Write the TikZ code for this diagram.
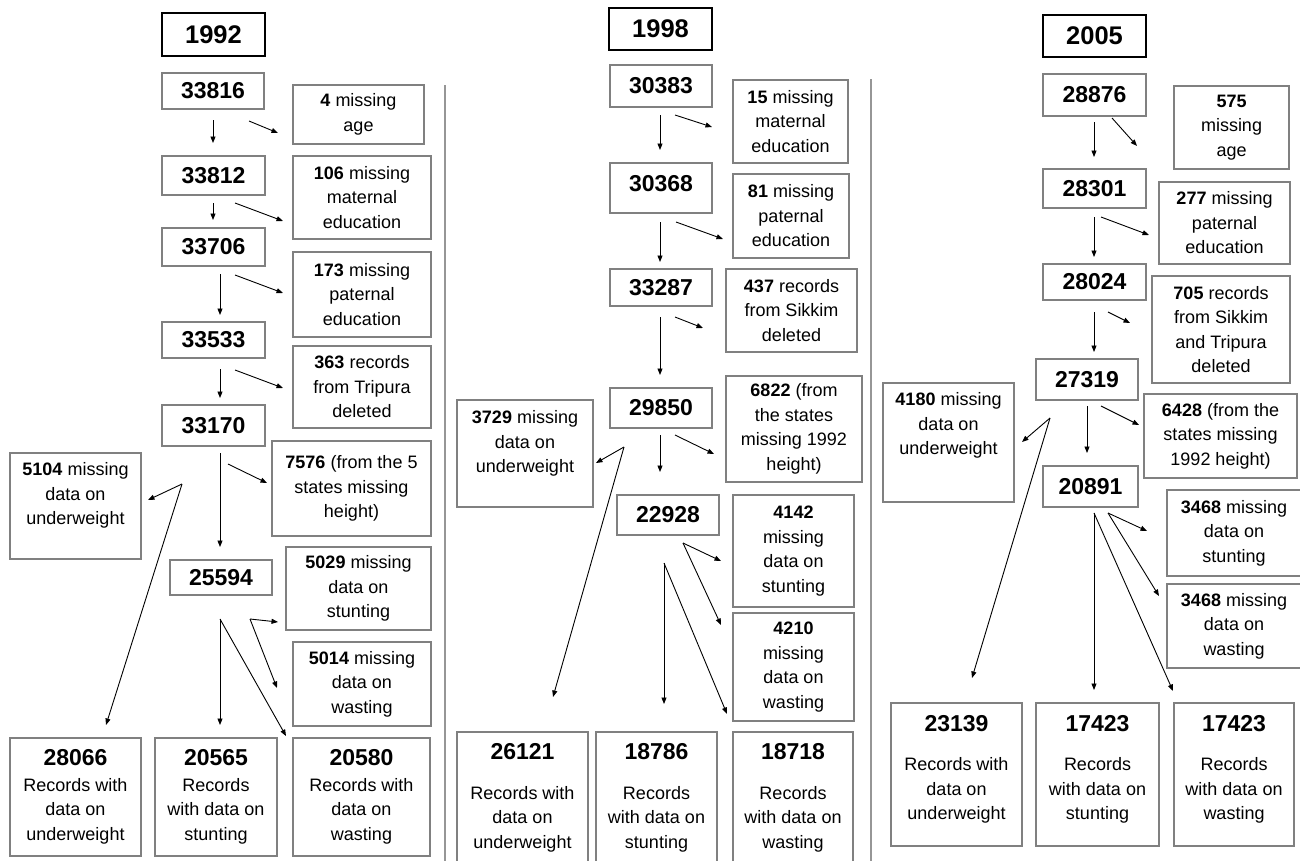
\documentclass[tikz,border=0pt]{standalone}
\usepackage{fontspec}
\setmainfont{Liberation Sans}
\usetikzlibrary{arrows.meta}
\definecolor{boxgray}{RGB}{128,128,128}
\definecolor{sepgray}{RGB}{150,150,150}
\newcommand\txtfont{\fontsize{18}{24.5}\selectfont}
\newcommand\numfont{\fontsize{23}{26}\selectfont\bfseries}
\newcommand\yrfont{\fontsize{25.5}{28}\selectfont\bfseries}
\newcommand\mkbox[7][]{\node[box,#1,minimum width={#5pt-#3pt},minimum height={#6pt-#4pt}] (#2) at ({(#3+#5)/2},{(#4+#6)/2}) {#7};}
\newcommand\mkarr[3]{\coordinate (#1s) at #2; \coordinate (#1e) at #3; \draw[arw] (#1s) -- (#1e);}
\begin{document}
\begin{tikzpicture}[x=1pt,y=-1pt,
  box/.style={draw=boxgray, line width=1.2pt, inner sep=0pt, outer sep=0pt, align=center, font=\txtfont},
  yr/.style={draw=black, line width=2pt, font=\yrfont},
  num/.style={font=\numfont},
  txt/.style={inner sep=0pt, align=center, font=\txtfont},
  numt/.style={inner sep=0pt, font=\numfont},
  arw/.style={-{Triangle[length=6.5pt,width=5pt]}, line width=0.9pt},
  sep/.style={draw=sepgray, line width=2pt}]
\useasboundingbox (0,0) rectangle (1300,860);
% separators
\coordinate (sep1a) at (445,85); \coordinate (sep1b) at (445,862);
\coordinate (sep2a) at (871,79); \coordinate (sep2b) at (871,862);
\draw[sep] (sep1a) -- (sep1b);
\draw[sep] (sep2a) -- (sep2b);

% ================= 1992 =================
\mkbox[yr]{y92}{162}{13}{265}{56}{1992}
\mkbox[num]{a1}{162}{73}{264}{109}{33816}
\mkbox{m1}{293}{85}{424}{144}{\textbf{4} missing\\age}
\mkbox[num]{a2}{162}{156}{265}{195}{33812}
\mkbox{m2}{293}{156}{431}{239}{\textbf{106} missing\\maternal\\education}
\mkbox[num]{a3}{162}{228}{265}{266}{33706}
\mkbox{m3}{293}{252}{431}{337}{\textbf{173} missing\\paternal\\education}
\mkbox[num]{a4}{162}{322}{265}{358}{33533}
\mkbox{m4}{293}{346}{431}{428}{\textbf{363} records\\from Tripura\\deleted}
\mkbox[num]{a5}{162}{405}{265}{446}{33170}
\mkbox{m5}{272}{441}{431}{536}{\textbf{7576} (from the 5\\states missing\\height)}
\mkbox{u1}{10}{453}{141}{559}{}
\node[txt,anchor=base] (u1t) at (75.5,524.5) {\textbf{5104} missing\\data on\\underweight};
\mkbox[num]{a6}{170}{560}{272}{595}{25594}
\mkbox{s1}{286}{547}{431}{630}{\textbf{5029} missing\\data on\\stunting}
\mkbox{w1}{293}{642}{431}{726}{\textbf{5014} missing\\data on\\wasting}
\mkbox{b1}{10}{738}{141}{856}{}
\node[numt,anchor=base] (b1n) at (75.5,765) {28066};
\node[txt,anchor=base] (b1t) at (75.5,840) {Records with\\data on\\underweight};
\mkbox{b2}{155}{738}{277}{856}{}
\node[numt,anchor=base] (b2n) at (216,765) {20565};
\node[txt,anchor=base] (b2t) at (216,840) {Records\\with data on\\stunting};
\mkbox{b3}{293}{738}{430}{856}{}
\node[numt,anchor=base] (b3n) at (361.5,765) {20580};
\node[txt,anchor=base] (b3t) at (361.5,840) {Records with\\data on\\wasting};

\mkarr{a1d}{(213,120)}{(213,143)}
\mkarr{a1r}{(249,121)}{(278,133)}
\mkarr{a2d}{(213,203)}{(213,220)}
\mkarr{a2r}{(235,203)}{(283,221)}
\mkarr{a3d}{(220,274)}{(220,315)}
\mkarr{a3r}{(235,275)}{(283,293)}
\mkarr{a4d}{(220,369)}{(220,398)}
\mkarr{a4r}{(235,370)}{(283,388)}
\mkarr{a5d}{(220,453)}{(220,547)}
\mkarr{a5r}{(228,464)}{(267,483)}
\coordinate (v1) at (182,484); \coordinate (v1a) at (148,500); \coordinate (v1b) at (106,725);
\draw[arw] (v1) -- (v1a); \draw[arw] (v1) -- (v1b);
\coordinate (f1) at (250,619); \coordinate (f1a) at (278,622); \coordinate (f1b) at (277,688);
\draw[arw] (f1) -- (f1a); \draw[arw] (f1) -- (f1b);
\coordinate (g1) at (220,619); \coordinate (g1a) at (220,725); \coordinate (g1b) at (286,736);
\draw[arw] (g1) -- (g1a); \draw[arw] (g1) -- (g1b);

% ================= 1998 =================
\mkbox[yr]{y98}{609}{8}{712}{50}{1998}
\mkbox[num]{c1}{610}{65}{712}{107}{30383}
\mkbox{n1}{733}{80}{848}{163}{\textbf{15} missing\\maternal\\education}
\mkbox{c2}{610}{163}{712}{213}{}
\node[numt,anchor=base] (c2n) at (661,191.3) {30368};
\mkbox{n2}{733}{174}{849}{258}{\textbf{81} missing\\paternal\\education}
\mkbox[num]{c3}{610}{269}{712}{306}{33287}
\mkbox{n3}{726}{269}{857}{352}{\textbf{437} records\\from Sikkim\\deleted}
\mkbox[num]{c4}{610}{388}{712}{428}{29850}
\mkbox{n4}{726}{376}{862}{482}{\textbf{6822} (from\\the states\\missing 1992\\height)}
\mkbox{u2}{457}{400}{593}{507}{}
\node[txt,anchor=base] (u2t) at (525,472.5) {\textbf{3729} missing\\data on\\underweight};
\mkbox[num]{c5}{617}{495}{719}{535}{22928}
\mkbox{s2}{733}{495}{854}{607}{\textbf{4142}\\missing\\data on\\stunting}
\mkbox{w2}{733}{613}{854}{721}{\textbf{4210}\\missing\\data on\\wasting}
\mkbox{b4}{457}{732}{588}{872}{}
\node[numt,anchor=base] (b4n) at (522.5,759.3) {26121};
\node[txt,anchor=base] (b4t) at (522.5,848) {Records with\\data on\\underweight};
\mkbox{b5}{596}{732}{717}{872}{}
\node[numt,anchor=base] (b5n) at (656.5,759.3) {18786};
\node[txt,anchor=base] (b5t) at (656.5,848) {Records\\with data on\\stunting};
\mkbox{b6}{733}{732}{853}{872}{}
\node[numt,anchor=base] (b6n) at (793,759.3) {18718};
\node[txt,anchor=base] (b6t) at (793,848) {Records\\with data on\\wasting};

\mkarr{c1d}{(660,115)}{(660,150)}
\mkarr{c1r}{(675,115)}{(712,127)}
\mkarr{c2d}{(660,222)}{(660,262)}
\mkarr{c2r}{(676,222)}{(723,239)}
\mkarr{c3d}{(660,317)}{(660,375)}
\mkarr{c3r}{(675,317)}{(703,328)}
\mkarr{c4d}{(660,435)}{(660,472)}
\mkarr{c4r}{(675,435)}{(714,454)}
\coordinate (v2) at (624,447); \coordinate (v2a) at (596,463); \coordinate (v2b) at (553,697);
\draw[arw] (v2) -- (v2a); \draw[arw] (v2) -- (v2b);
\coordinate (f2) at (683,543); \coordinate (f2a) at (721,561); \coordinate (f2b) at (721,625);
\draw[arw] (f2) -- (f2a); \draw[arw] (f2) -- (f2b);
\coordinate (g2) at (664,563); \coordinate (g2a) at (664,704); \coordinate (g2b) at (727,714);
\draw[arw] (g2) -- (g2a); \draw[arw] (g2) -- (g2b);

% ================= 2005 =================
\mkbox[yr]{y05}{1043}{15}{1146}{57}{2005}
\mkbox[num]{d1}{1043}{74}{1146}{116}{28876}
\mkbox{p1}{1174}{86}{1289}{169}{\textbf{575}\\missing\\age}
\mkbox[num]{d2}{1043}{169}{1146}{208}{28301}
\mkbox{p2}{1159}{182}{1290}{264}{\textbf{277} missing\\paternal\\education}
\mkbox[num]{d3}{1043}{264}{1146}{300}{28024}
\mkbox{p3}{1152}{276}{1290}{383}{\textbf{705} records\\from Sikkim\\and Tripura\\deleted}
\mkbox[num]{d4}{1036}{359}{1138}{400}{27319}
\mkbox{p4}{1144}{394}{1297}{478}{\textbf{6428} (from the\\states missing\\1992 height)}
\mkbox{u3}{883}{383}{1014}{502}{}
\node[txt,anchor=base] (u3t) at (948.5,454.5) {\textbf{4180} missing\\data on\\underweight};
\mkbox[num]{d5}{1043}{466}{1138}{507}{20891}
\mkbox{s3}{1167}{490}{1304}{576}{}
\node[txt] (s3t) at (1234,533) {\textbf{3468} missing\\data on\\stunting};
\mkbox{w3}{1167}{584}{1304}{668}{}
\node[txt] (w3t) at (1234,626) {\textbf{3468} missing\\data on\\wasting};
\mkbox{b7}{891}{703}{1022}{846}{}
\node[numt,anchor=base] (b7n) at (956.5,731.3) {23139};
\node[txt,anchor=base] (b7t) at (956.5,819.5) {Records with\\data on\\underweight};
\mkbox{b8}{1036}{703}{1159}{846}{}
\node[numt,anchor=base] (b8n) at (1097.5,731.3) {17423};
\node[txt,anchor=base] (b8t) at (1097.5,819.5) {Records\\with data on\\stunting};
\mkbox{b9}{1174}{703}{1294}{846}{}
\node[numt,anchor=base] (b9n) at (1234,731.3) {17423};
\node[txt,anchor=base] (b9t) at (1234,819.5) {Records\\with data on\\wasting};

\mkarr{d1d}{(1094,122)}{(1094,157)}
\mkarr{d1r}{(1112,118)}{(1137,146)}
\mkarr{d2d}{(1094,217)}{(1094,257)}
\mkarr{d2r}{(1101,217)}{(1149,235)}
\mkarr{d3d}{(1094,312)}{(1094,352)}
\mkarr{d3r}{(1108,312)}{(1130,323)}
\mkarr{d4d}{(1087,406)}{(1087,453)}
\mkarr{d4r}{(1101,406)}{(1139,425)}
\coordinate (v3) at (1050,418); \coordinate (v3a) at (1022,442); \coordinate (v3b) at (972,678);
\draw[arw] (v3) -- (v3a); \draw[arw] (v3) -- (v3b);
\coordinate (f3) at (1108,513); \coordinate (f3a) at (1147,531); \coordinate (f3b) at (1159,596);
\draw[arw] (f3) -- (f3a); \draw[arw] (f3) -- (f3b);
\coordinate (g3) at (1094,513); \coordinate (g3a) at (1094,690); \coordinate (g3b) at (1173,691);
\draw[arw] (g3) -- (g3a); \draw[arw] (g3) -- (g3b);
\end{tikzpicture}
\end{document}
